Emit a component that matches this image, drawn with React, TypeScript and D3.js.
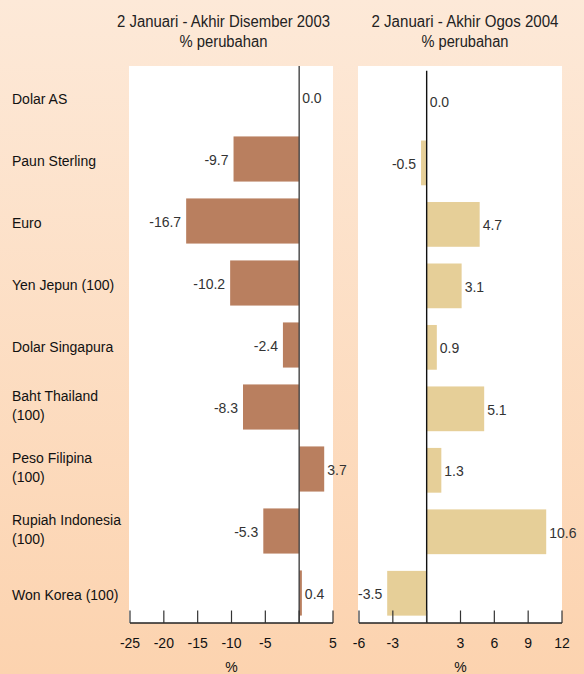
import React from "react";
import * as d3 from "d3";

const categoryLines: string[][] = [
  ["Dolar AS"],
  ["Paun Sterling"],
  ["Euro"],
  ["Yen Jepun (100)"],
  ["Dolar Singapura"],
  ["Baht Thailand", "(100)"],
  ["Peso Filipina", "(100)"],
  ["Rupiah Indonesia", "(100)"],
  ["Won Korea (100)"],
];
const values2003 = [0.0, -9.7, -16.7, -10.2, -2.4, -8.3, 3.7, -5.3, 0.4];
const values2004 = [0.0, -0.5, 4.7, 3.1, 0.9, 5.1, 1.3, 10.6, -3.5];
const ticks2003 = [-25, -20, -15, -10, -5, 0, 5];
const ticks2004 = [-6, -3, 0, 3, 6, 9, 12];
const title2003 = ["2 Januari - Akhir Disember 2003", "% perubahan"];
const title2004 = ["2 Januari - Akhir Ogos 2004", "% perubahan"];
const axisTitle = "%";

const W = 584;
const H = 674;
const FONT = "'Liberation Sans', Arial, Helvetica, sans-serif";
const idx = categoryLines.map((_, i) => String(i));

type PanelProps = {
  values: number[];
  ticks: number[];
  domain: [number, number];
  xRange: [number, number];
  yRange: [number, number];
  color: string;
  title: string[];
  titleX: number;
  titleW: number[];
  zeroColor: string;
};

function Panel(p: PanelProps) {
  const x = d3.scaleLinear().domain(p.domain).range(p.xRange);
  const y = d3
    .scaleBand<string>()
    .domain(idx)
    .range(p.yRange)
    .paddingInner(0.272)
    .paddingOuter(0.136);
  const axisY = 623;
  const panelTop = 66;
  const x0 = x(0);
  return (
    <g>
      <rect
        x={p.xRange[0] - 1}
        y={panelTop}
        width={p.xRange[1] - p.xRange[0] + 1}
        height={axisY - panelTop}
        fill="#ffffff"
      />
      {p.title.map((t, i) => (
        <text
          key={i}
          x={p.titleX}
          y={27 + i * 20}
          textAnchor="middle"
          fontSize={16}
          fill="#222"
          textLength={p.titleW[i]}
          lengthAdjust="spacingAndGlyphs"
        >
          {t}
        </text>
      ))}
      {p.values.map((v, i) => {
        const yy = y(String(i))!;
        const bw = y.bandwidth();
        const xs = Math.min(x(v), x0);
        const w = Math.abs(x(v) - x0);
        const cy = yy + bw / 2;
        return (
          <g key={i}>
            {w > 0 && <rect x={xs} y={yy} width={w} height={bw} fill={p.color} />}
            <text
              x={v < 0 ? x(v) - 5 : x(v) + 3}
              y={cy + 6}
              textAnchor={v < 0 ? "end" : "start"}
              fontSize={14}
              fill="#333"
            >
              {v.toFixed(1)}
            </text>
          </g>
        );
      })}
      <line x1={x0} x2={x0} y1={p.yRange[0]} y2={axisY} stroke={p.zeroColor} strokeWidth={1.4} />
      <line x1={p.xRange[0]} x2={p.xRange[1]} y1={axisY} y2={axisY} stroke="#222" strokeWidth={1.4} />
      {p.ticks.map((t) => (
        <g key={t}>
          <line x1={x(t)} x2={x(t)} y1={axisY} y2={axisY - 12.5} stroke="#333" strokeWidth={1.2} />
          {t !== 0 && (
            <text x={x(t)} y={648} textAnchor="middle" fontSize={14} fill="#111">
              {t}
            </text>
          )}
        </g>
      ))}
      <text x={(p.xRange[0] + p.xRange[1]) / 2} y={672} textAnchor="middle" fontSize={14} fill="#111">
        {axisTitle}
      </text>
    </g>
  );
}

export default function App() {
  const y = d3
    .scaleBand<string>()
    .domain(idx)
    .range([66, 624])
    .paddingInner(0.272)
    .paddingOuter(0.136);
  return (
    <svg
      width={W}
      height={H}
      style={{ position: "absolute", left: 0, top: 0, display: "block" }}
      fontFamily={FONT}
    >
      <defs>
        <linearGradient id="bg" x1="0" y1="0" x2="0" y2="1">
          <stop offset="0" stopColor="#fde9d8" />
          <stop offset="1" stopColor="#fcd3af" />
        </linearGradient>
      </defs>
      <rect x={0} y={0} width={W} height={H} fill="url(#bg)" />
      {categoryLines.map((lines, i) => {
        const cy = y(idx[i])! + y.bandwidth() / 2;
        return (
          <text key={i} fontSize={14} fill="#111">
            {lines.length === 1 ? (
              <tspan x={12} y={cy + 7}>
                {lines[0]}
              </tspan>
            ) : (
              lines.map((l, j) => (
                <tspan key={j} x={12} y={cy - 6 + j * 19}>
                  {l}
                </tspan>
              ))
            )}
          </text>
        );
      })}
      <Panel
        values={values2003}
        ticks={ticks2003}
        domain={[-25, 5]}
        xRange={[130, 333]}
        yRange={[66, 624]}
        color="#b97f5f"
        title={title2003}
        titleX={223.5}
        titleW={[213, 88]}
        zeroColor="#444"
      />
      <Panel
        values={values2004}
        ticks={ticks2004}
        domain={[-6, 12]}
        xRange={[359, 562]}
        yRange={[70.7, 624]}
        color="#e6cf98"
        title={title2004}
        titleX={465}
        titleW={[187, 87]}
        zeroColor="#111"
      />
    </svg>
  );
}
